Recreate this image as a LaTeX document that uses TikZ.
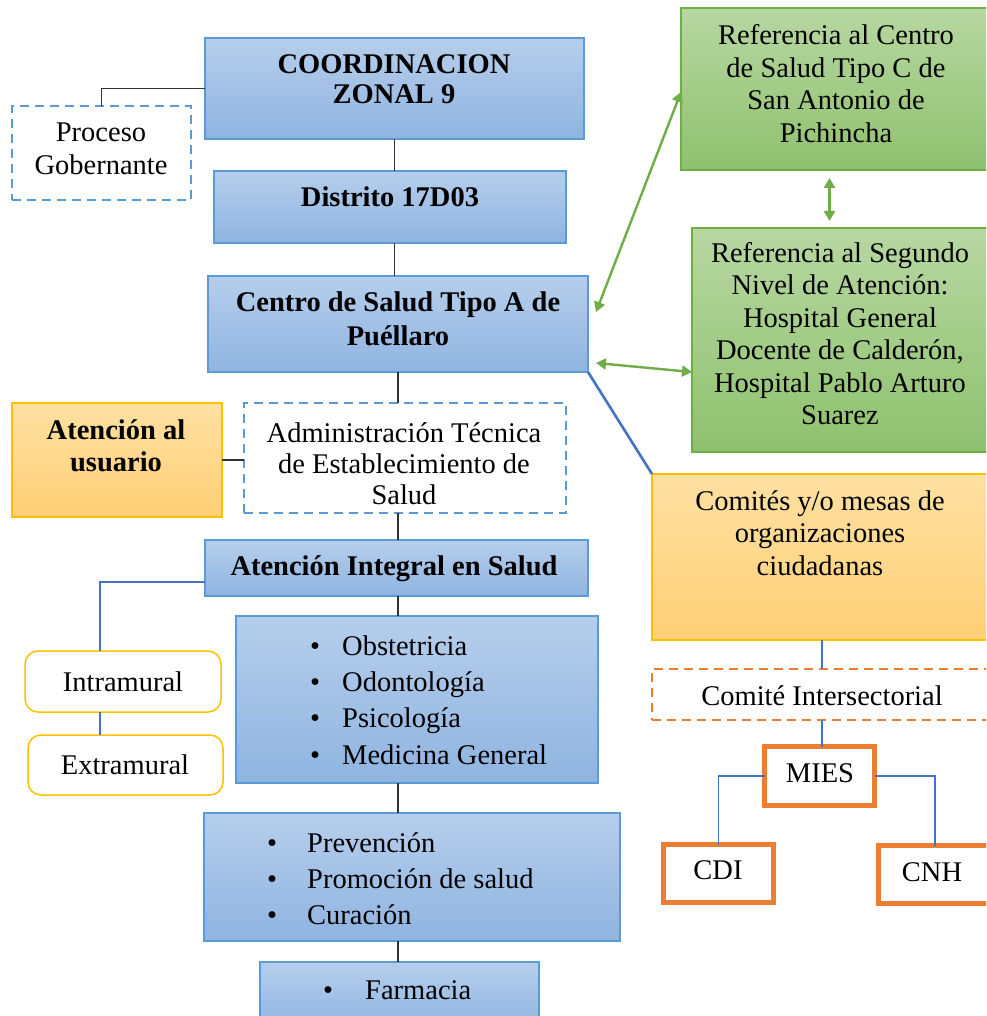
\documentclass[tikz,border=0pt]{standalone}
\usepackage{fontspec}
\setmainfont{Liberation Serif}
\usetikzlibrary{arrows.meta,fit}
\definecolor{bluetop}{RGB}{182,206,236}
\definecolor{bluebot}{RGB}{143,180,224}
\definecolor{blueline}{RGB}{91,155,213}
\definecolor{greentop}{RGB}{183,215,162}
\definecolor{greenbot}{RGB}{143,193,110}
\definecolor{greenline}{RGB}{112,173,71}
\definecolor{oratop}{RGB}{254,224,162}
\definecolor{orabot}{RGB}{255,208,118}
\definecolor{goldline}{RGB}{255,192,0}
\definecolor{orline}{RGB}{237,125,49}
\definecolor{connc}{RGB}{50,50,50}
\definecolor{bconnc}{RGB}{68,114,196}
\begin{document}
\begin{tikzpicture}[x=1pt,y=-1pt,
  box/.style={rectangle, inner sep=0pt, outer sep=0pt},
  bluebox/.style={box, draw=blueline, line width=1.5pt, top color=bluetop, bottom color=bluebot},
  greenbox/.style={box, draw=greenline, line width=1.5pt, top color=greentop, bottom color=greenbot},
  orangebox/.style={box, draw=goldline, line width=1.5pt, top color=oratop, bottom color=orabot},
  dashbluebox/.style={box, draw=blueline, line width=1.3pt, dash pattern=on 9pt off 6pt, fill=white},
  dashorbox/.style={box, draw=orline, line width=1.3pt, dash pattern=on 9pt off 6pt, fill=white},
  roundbox/.style={box, draw=goldline, line width=1.5pt, rounded corners=13pt, fill=white},
  thickbox/.style={box, draw=orline, line width=5pt, fill=white},
  txt/.style={inner sep=0pt, align=center, anchor=base, font=\fontsize{28.5}{32.5}\selectfont},
  btxt/.style={txt, font=\fontsize{28.5}{32.5}\selectfont\bfseries},
  ltxt/.style={inner sep=0pt, align=left, anchor=base west},
  conn/.style={draw=connc, line width=1.8pt},
  bconn/.style={draw=bconnc, line width=1.8pt},
  garrow/.style={draw=greenline, line width=2.4pt, {Triangle[length=10pt,width=11pt]}-{Triangle[length=10pt,width=11pt]}}
]
\path[use as bounding box, clip] (0,0) rectangle (986,1016);
\fill[white] (0,0) rectangle (986,1016);

% boxes
\node[bluebox, fit={(205,38) (584,139)}] (coord) {};
\node[dashbluebox, fit={(12,106) (191,200)}] (proc) {};
\node[bluebox, fit={(214,171) (566,243)}] (dist) {};
\node[bluebox, fit={(208,276) (588,372)}] (centro) {};
\node[greenbox, fit={(681,8) (992,170)}] (g1) {};
\node[greenbox, fit={(692,228) (992,452)}] (g2) {};
\node[orangebox, fit={(652,474) (992,640)}] (com) {};
\node[dashorbox, fit={(652,669) (992,720)}] (inter) {};
\node[thickbox, fit={(764.5,746.5) (874.5,805.5)}] (mies) {};
\node[thickbox, fit={(663.5,844.5) (773.5,902.5)}] (cdi) {};
\node[thickbox, fit={(878.5,845.5) (992,903.5)}] (cnh) {};
\node[orangebox, fit={(12,403) (222,517)}] (aten) {};
\node[dashbluebox, fit={(244,403) (566,513)}] (admin) {};
\node[bluebox, fit={(205,540) (588,596)}] (integ) {};
\node[roundbox, fit={(25,651) (221,712)}] (intra) {};
\node[roundbox, fit={(28,735) (223,795)}] (extra) {};
\node[bluebox, fit={(236,616) (598,783)}] (obst) {};
\node[bluebox, fit={(204,813) (620,941)}] (prev) {};
\node[bluebox, fit={(260,962) (539,1030)}] (farm) {};

% connectors
\draw[conn] (coord.west) -| (proc.north);
\draw[conn] (coord.south) -- (coord.south |- dist.north);
\draw[conn] (coord.south |- dist.south) -- (coord.south |- centro.north);
\draw[conn] (centro.south) -- (centro.south |- admin.north);
\draw[conn] (aten.east) -- (aten.east -| admin.west);
\draw[conn] (centro.south |- admin.south) -- (centro.south |- integ.north);
\draw[conn] (centro.south |- integ.south) -- (centro.south |- obst.north);
\draw[conn] (centro.south |- obst.south) -- (centro.south |- prev.north);
\draw[conn] (centro.south |- prev.south) -- (centro.south |- farm.north);
\draw[bconn] ([yshift=-14pt]integ.west) -| ([xshift=-23pt]intra.north);
\draw[bconn] ([xshift=-23pt]intra.south) -- ([xshift=-23pt]intra.south |- extra.north);
\draw[bconnc, line width=2.6pt] (centro.south east) -- (com.north west);
\draw[bconn] (com.south) -- (com.south |- inter.north);
\draw[bconn] (com.south |- inter.south) -- (com.south |- mies.north);
\draw[bconn] (mies.west) -| (cdi.north);
\draw[bconn] (mies.east) -| (cnh.north);
\draw[garrow] ([shift={(8,-12)}]centro.east) -- ([yshift=-3pt]g1.west);
\draw[garrow] ([shift={(8,39)}]centro.east) -- ([yshift=-32pt]g2.west);
\draw[garrow] ([shift={(-7,8)}]g1.south) -- ([shift={(-7,-7)}]g1.south |- g2.north);

% texts (anchor = baseline of the last line)
\node[btxt, font=\fontsize{28.5}{30}\selectfont\bfseries] (tcoord) at (394,104) {COORDINACION\\ZONAL 9};
\node[txt, font=\fontsize{28.5}{33}\selectfont] (tproc) at (101,175) {Proceso\\Gobernante};
\node[btxt] (tdist) at (390,207) {Distrito 17D03};
\node[btxt, font=\fontsize{28.5}{34}\selectfont\bfseries] (tcentro) at (398,345) {Centro de Salud Tipo A de\\Puéllaro};
\node[txt] (tg1) at (836,142.5) {Referencia al Centro\\de Salud Tipo C de\\San Antonio de\\Pichincha};
\node[txt] (tg2) at (840,424.5) {Referencia al Segundo\\Nivel de Atención:\\Hospital General\\Docente de Calderón,\\Hospital Pablo Arturo\\Suarez};
\node[txt] (tcom) at (820,575) {Comités y/o mesas de\\organizaciones\\ciudadanas};
\node[txt] (tinter) at (822,705) {Comité Intersectorial};
\node[txt] (tmies) at (820,782) {MIES};
\node[txt] (tcdi) at (718,879) {CDI};
\node[txt] (tcnh) at (932,881) {CNH};
\node[btxt] (taten) at (116,471.5) {Atención al\\usuario};
\node[txt, font=\fontsize{28.5}{31}\selectfont] (tadmin) at (404,504) {Administración Técnica\\de Establecimiento de\\Salud};
\node[btxt] (tinteg) at (394,575) {Atención Integral en Salud};
\node[txt] (tintra) at (123,691) {Intramural};
\node[txt] (textra) at (125,774) {Extramural};
\node[ltxt, font=\fontsize{28.5}{36.3}\selectfont] (tobst) at (310,764) {\makebox[32pt][l]{•}Obstetricia\\\makebox[32pt][l]{•}Odontología\\\makebox[32pt][l]{•}Psicología\\\makebox[32pt][l]{•}Medicina General};
\node[ltxt, font=\fontsize{28.5}{36}\selectfont] (tprev) at (267,924) {\makebox[40pt][l]{•}Prevención\\\makebox[40pt][l]{•}Promoción de salud\\\makebox[40pt][l]{•}Curación};
\node[ltxt, font=\fontsize{28.5}{36}\selectfont] (tfarm) at (323,999) {\makebox[42pt][l]{•}Farmacia};
\end{tikzpicture}
\end{document}
